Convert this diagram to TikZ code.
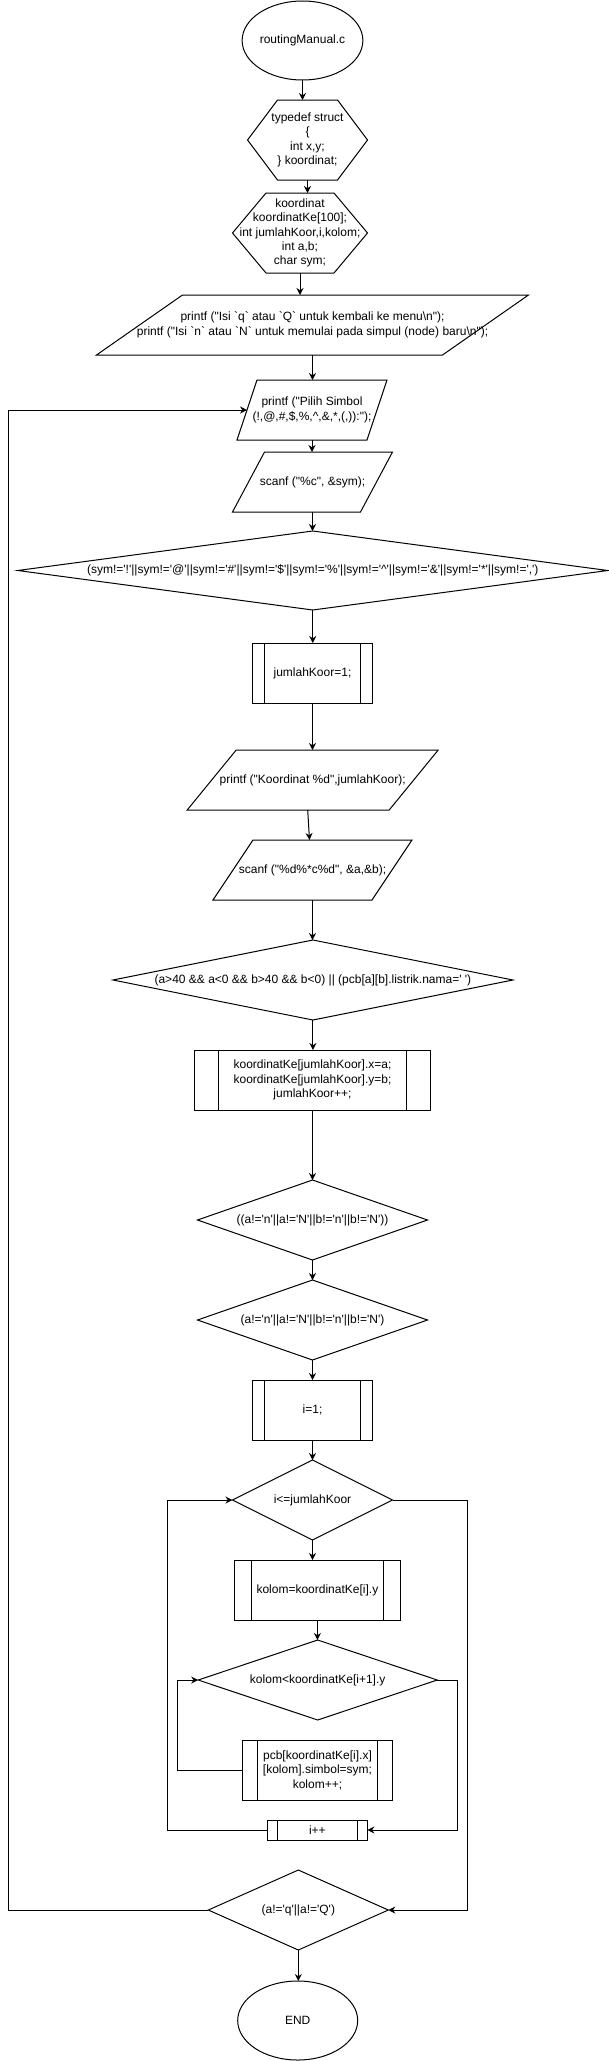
\documentclass[tikz,border=0pt]{standalone}
\usepackage{fontspec}
\setmainfont{Liberation Sans}[Ligatures=TeXOff]
\usetikzlibrary{arrows.meta,shapes.geometric}
\newcommand\dfont{\fontsize{12pt}{14.4pt}\selectfont}
\tikzset{
  base/.style={inner sep=0pt, outer sep=0pt, align=center, font=\dfont, text=black},
  shapebox/.style n args={2}{base, rectangle, minimum width=#1pt, minimum height=#2pt},
  proc/.style n args={3}{shapebox={#1}{#2}, draw, line width=1pt,
    path picture={\draw[line width=1pt]
      ([xshift=#3pt]path picture bounding box.north west) -- ([xshift=#3pt]path picture bounding box.south west)
      ([xshift=-#3pt]path picture bounding box.north east) -- ([xshift=-#3pt]path picture bounding box.south east);}},
  term/.style n args={2}{base, ellipse, draw, line width=1pt, minimum width=#1pt, minimum height=#2pt},
  outline/.style={draw, line width=1pt, line join=miter},
  flow/.style={draw, line width=1pt, -{Stealth[length=7pt,width=7pt]}},
}
\begin{document}
\begin{tikzpicture}[x=1pt,y=-1pt]
\useasboundingbox (0,0) rectangle (609,2061);

% nodes
\node[term={119}{79}] (start) at (302.5,40.5) {routingManual.c};

\node[shapebox={120}{80}] (h1) at (307.5,140) {typedef struct\\ \{\\ int x,y;\\ \} koordinat;};
\draw[outline] (h1.west) -- ([xshift=30pt]h1.north west) -- ([xshift=-30pt]h1.north east) -- (h1.east)
  -- ([xshift=-30pt]h1.south east) -- ([xshift=30pt]h1.south west) -- cycle;

\node[shapebox={135}{80}] (h2) at (300,233) {koordinat\\ koordinatKe[100];\\ int jumlahKoor,i,kolom;\\ int a,b;\\ char sym;};
\draw[outline] (h2.west) -- ([xshift=33.5pt]h2.north west) -- ([xshift=-33.5pt]h2.north east) -- (h2.east)
  -- ([xshift=-33.5pt]h2.south east) -- ([xshift=33.5pt]h2.south west) -- cycle;

\node[shapebox={432}{60}] (p1) at (312.5,325) {printf ("Isi `q` atau `Q` untuk kembali ke menu\textbackslash n");\\ printf ("Isi `n` atau `N` untuk memulai pada simpul (node) baru\textbackslash n");};
\draw[outline] (p1.south west) -- ([xshift=-86pt]p1.south east) -- (p1.north east) -- ([xshift=86pt]p1.north west) -- cycle;

\node[shapebox={150}{60}] (p2) at (312,410) {printf ("Pilih Simbol\\ (!,@,\#,\$,\%,\^{},\&,*,(,)):");};
\draw[outline] (p2.south west) -- ([xshift=-20pt]p2.south east) -- (p2.north east) -- ([xshift=20pt]p2.north west) -- cycle;

\node[shapebox={160}{60}] (p3) at (312.5,482) {scanf ("\%c", \&sym);};
\draw[outline] (p3.south west) -- ([xshift=-32pt]p3.south east) -- (p3.north east) -- ([xshift=32pt]p3.north west) -- cycle;

\node[shapebox={590}{79}] (d1) at (312.75,570.5) {(sym!='!'||sym!='@'||sym!='\#'||sym!='\$'||sym!='\%'||sym!='\^{}'||sym!='\&'||sym!='*'||sym!=',')};
\draw[outline] (d1.north) -- (d1.east) -- (d1.south) -- (d1.west) -- cycle;

\node[proc={120}{60}{12}] (b1) at (312.5,673) {jumlahKoor=1;};

\node[shapebox={251}{60}] (p4) at (312.7,780) {printf ("Koordinat \%d",jumlahKoor);};
\draw[outline] (p4.south west) -- ([xshift=-49pt]p4.south east) -- (p4.north east) -- ([xshift=49pt]p4.north west) -- cycle;

\node[shapebox={199}{60}] (p5) at (312.5,870) {scanf ("\%d\%*c\%d", \&a,\&b);};
\draw[outline] (p5.south west) -- ([xshift=-40pt]p5.south east) -- (p5.north east) -- ([xshift=40pt]p5.north west) -- cycle;

\node[shapebox={400}{80}] (d2) at (312.9,980) {(a>40 \&\& a<0 \&\& b>40 \&\& b<0) || (pcb[a][b].listrik.nama=' ')};
\draw[outline] (d2.north) -- (d2.east) -- (d2.south) -- (d2.west) -- cycle;

\node[proc={236}{60}{24}] (b2) at (312.5,1080) {koordinatKe[jumlahKoor].x=a;\\ koordinatKe[jumlahKoor].y=b;\\ jumlahKoor++;};

\node[shapebox={230}{80}] (d3) at (312.5,1220) {((a!='n'||a!='N'||b!='n'||b!='N'))};
\draw[outline] (d3.north) -- (d3.east) -- (d3.south) -- (d3.west) -- cycle;

\node[shapebox={230}{80}] (d4) at (312.5,1320) {(a!='n'||a!='N'||b!='n'||b!='N')};
\draw[outline] (d4.north) -- (d4.east) -- (d4.south) -- (d4.west) -- cycle;

\node[proc={120}{60}{12}] (b3) at (312.5,1410) {i=1;};

\node[shapebox={160}{80}] (d5) at (312.5,1500) {i<=jumlahKoor};
\draw[outline] (d5.north) -- (d5.east) -- (d5.south) -- (d5.west) -- cycle;

\node[proc={166}{60}{17}] (b4) at (317.4,1590) {kolom=koordinatKe[i].y};

\node[shapebox={239}{80}] (d6) at (317.7,1680) {kolom<koordinatKe[i+1].y};
\draw[outline] (d6.north) -- (d6.east) -- (d6.south) -- (d6.west) -- cycle;

\node[proc={150}{60}{15}] (b5) at (317.5,1770) {pcb[koordinatKe[i].x]\\ {[kolom]}.simbol=sym;\\ kolom++;};

\node[proc={100}{20}{10}] (b6) at (317.4,1830) {i++};

\node[shapebox={180}{80}] (d7) at (298.3,1910) {(a!='q'||a!='Q')};
\draw[outline] (d7.north) -- (d7.east) -- (d7.south) -- (d7.west) -- cycle;

\node[term={120}{79}] (end) at (297.7,2020.5) {END};

% connectors
\draw[flow] (start.south) -- (start.south |- h1.north);
\draw[flow] (h1.south) -- (h1.south |- h2.north);
\draw[flow] (h2.south) -- (h2.south |- p1.north);
\draw[flow] (p1.south) -- (p1.south |- p2.north);
\draw[flow] (p2.south) -- (p2.south |- p3.north);
\draw[flow] (p3.south) -- (p3.south |- d1.north);
\draw[flow] (d1.south) -- (d1.south |- b1.north);
\draw[flow] (b1.south) -- (b1.south |- p4.north);
\draw[flow] ([xshift=-5pt]p4.south) -- ([xshift=-3pt]p5.north);
\draw[flow] (p5.south) -- (p5.south |- d2.north);
\draw[flow] (d2.south) -- (d2.south |- b2.north);
\draw[flow] (b2.south) -- (b2.south |- d3.north);
\draw[flow] (d3.south) -- (d3.south |- d4.north);
\draw[flow] (d4.south) -- (d4.south |- b3.north);
\draw[flow] (b3.south) -- (b3.south |- d5.north);
\draw[flow] (d5.south) -- (d5.south |- b4.north);
\draw[flow] (b4.south) -- (b4.south |- d6.north);
\draw[flow] (b5.west) -- ++(-65,0) |- (d6.west);
\draw[flow] (d6.east) -- ++(20.2,0) |- (b6.east);
\draw[flow] (b6.west) -- ++(-99.5,0) |- (d5.west);
\draw[flow] (d5.east) -- ++(75,0) |- (d7.east);
\draw[flow] (d7.west) -- ++(-200.2,0) |- ([xshift=10pt]p2.west);
\draw[flow] (d7.south) -- (d7.south |- end.north);
\end{tikzpicture}
\end{document}
